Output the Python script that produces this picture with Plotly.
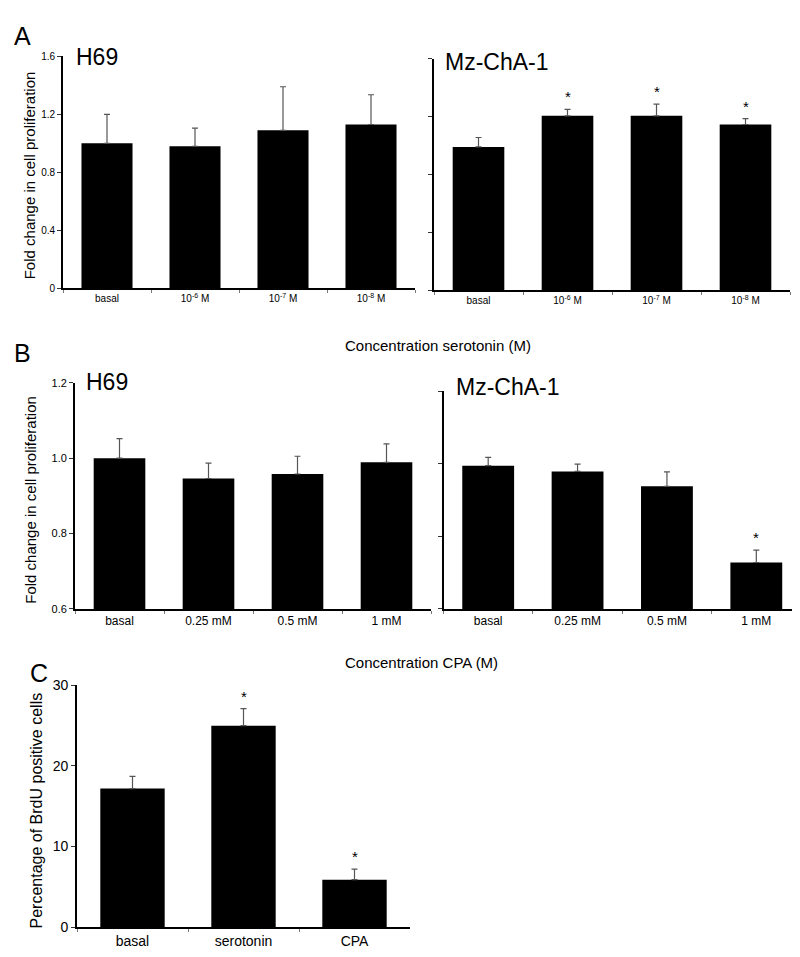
import plotly.graph_objects as go

# ---------------- data ----------------
a_cats = ["basal", "10^-6 M", "10^-7 M", "10^-8 M"]
a_ticktext = ["basal", "10<sup>-6</sup> M", "10<sup>-7</sup> M", "10<sup>-8</sup> M"]
a_h69 = [1.00, 0.98, 1.09, 1.13]
a_h69_err = [0.20, 0.125, 0.30, 0.205]
a_h69_sig = [False, False, False, False]
a_mz = [0.99, 1.205, 1.205, 1.145]
a_mz_err = [0.065, 0.045, 0.08, 0.04]
a_mz_sig = [False, True, True, True]

b_cats = ["basal", "0.25 mM", "0.5 mM", "1 mM"]
b_h69 = [1.00, 0.946, 0.958, 0.989]
b_h69_err = [0.052, 0.041, 0.047, 0.049]
b_h69_sig = [False, False, False, False]
b_mz = [0.995, 0.979, 0.938, 0.728]
b_mz_err = [0.023, 0.02, 0.04, 0.034]
b_mz_sig = [False, False, False, True]

c_cats = ["basal", "serotonin", "CPA"]
c_vals = [17.2, 25.0, 5.9]
c_err = [1.5, 2.1, 1.3]
c_sig = [False, True, True]

FONT = "Liberation Sans, Arial, Helvetica, sans-serif"
H, W = 957, 800

def px_x(x):
    return x / W

def px_y(y):
    return 1 - y / H

fig = go.Figure()

panels = [
    ("x", "y", a_cats, a_h69, a_h69_err, a_h69_sig, (55, 407), (277, 41), [0, 1.6], [0, 0.4, 0.8, 1.2, 1.6], True, a_ticktext, 10, 10, "%g"),
    ("x2", "y2", a_cats, a_mz, a_mz_err, a_mz_sig, (426, 782), (279, 43.3), [0, 1.6], [0, 0.4, 0.8, 1.2, 1.6], False, a_ticktext, 10, 10, "%g"),
    ("x3", "y3", b_cats, b_h69, b_h69_err, b_h69_sig, (67, 423), (603, 373), [0.6, 1.2], [0.6, 0.8, 1.0, 1.2], True, b_cats, 12, 11, "%.1f"),
    ("x4", "y4", b_cats, b_mz, b_mz_err, b_mz_sig, (435.5, 793), (603, 381.7), [0.6, 1.2], [0.6, 0.8, 1.0, 1.2], False, b_cats, 12, 11, "%.1f"),
    ("x5", "y5", c_cats, c_vals, c_err, c_sig, (69, 402), (926.7, 680.7), [0, 30], [0, 10, 20, 30], True, c_cats, 14, 14, "%d"),
]

layout_axes = {}
annotations = []
for (xa, ya, cats, vals, errs, sigs, xd, yd, yr, ytv, showlab, ttext, xfs, yfs, fmt) in panels:
    fig.add_trace(go.Bar(
        x=cats, y=vals, xaxis=xa, yaxis=ya,
        marker=dict(color="black", line=dict(width=0)),
        error_y=dict(type="data", symmetric=False, array=errs,
                     arrayminus=[0] * len(errs), color="#555555",
                     thickness=1.2, width=3),
        showlegend=False, hoverinfo="skip",
    ))
    xkey = "xaxis" if xa == "x" else "xaxis" + xa[1:]
    ykey = "yaxis" if ya == "y" else "yaxis" + ya[1:]
    layout_axes[xkey] = dict(
        domain=[px_x(xd[0]), px_x(xd[1])], anchor=ya,
        type="category", range=[-0.5, len(cats) - 0.5],
        tickmode="array", tickvals=cats, ticktext=ttext,
        tickson="boundaries", ticks="outside", ticklen=3, tickcolor="#777777",
        tickwidth=1,
        showline=True, linecolor="black", linewidth=1.8,
        showgrid=False, zeroline=False,
        tickfont=dict(family=FONT, size=xfs, color="black"),
        fixedrange=True,
    )
    layout_axes[ykey] = dict(
        domain=[px_y(yd[0]), px_y(yd[1])], anchor=xa,
        range=yr, tickmode="array", tickvals=ytv,
        ticktext=[fmt % v for v in ytv],
        showticklabels=showlab,
        ticks="outside", ticklen=4, tickcolor="#333333", tickwidth=1,
        showline=True, linecolor="black", linewidth=1.8,
        showgrid=False, zeroline=False,
        tickfont=dict(family=FONT, size=yfs, color="black"),
        fixedrange=True,
    )
    for idx, (v, e, s) in enumerate(zip(vals, errs, sigs)):
        if s:
            annotations.append(dict(
                x=idx, y=v + e, xref=xa, yref=ya, text="*", showarrow=False,
                yanchor="bottom", yshift=2,
                font=dict(family=FONT, size=15, color="black"),
            ))

def txt(x, y, text, size, angle=0, xanchor="center"):
    annotations.append(dict(
        x=px_x(x), y=px_y(y), xref="paper", yref="paper", text=text,
        showarrow=False, xanchor=xanchor, yanchor="middle", textangle=angle,
        font=dict(family=FONT, size=size, color="black"),
    ))

# panel letters
txt(4, 20, "A", 25, xanchor="left")
txt(4, 343, "B", 25, xanchor="left")
txt(20, 668, "C", 25, xanchor="left")
# cell line titles
txt(66, 42, "H69", 23, xanchor="left")
txt(435, 47, "Mz-ChA-1", 23, xanchor="left")
txt(76, 372, "H69", 23, xanchor="left")
txt(446, 377, "Mz-ChA-1", 23, xanchor="left")
# y-axis titles
txt(21, 162, "Fold change in cell proliferation", 15, angle=-90)
txt(23, 492, "Fold change in cell proliferation", 15, angle=-90)
txt(28, 808, "Percentage of BrdU positive cells", 16, angle=-90)
# x titles
txt(430, 335, "Concentration serotonin (M)", 15)
txt(413, 657, "Concentration CPA (M)", 15)

fig.update_layout(
    width=W, height=H,
    margin=dict(l=0, r=0, t=0, b=0),
    paper_bgcolor="white", plot_bgcolor="white",
    bargap=0.42,
    annotations=annotations,
    font=dict(family=FONT, color="black"),
    **layout_axes,
)

fig.write_html("out.html", config={"displayModeBar": False})
